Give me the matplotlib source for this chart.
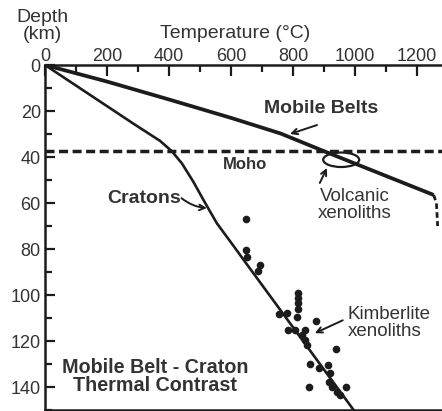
import matplotlib
matplotlib.use("Agg")
import matplotlib.pyplot as plt
from matplotlib.patches import Ellipse
from matplotlib.ticker import MultipleLocator

plt.rcParams["font.family"] = ["Liberation Sans", "DejaVu Sans"]

# geotherms (temperature degC, depth km)
mobile_T = [0, 200, 400, 600, 760, 900, 1253]
mobile_z = [0, 7.2, 15.0, 23.0, 29.8, 37.5, 56.5]
mobile_tail_T = [1253, 1262, 1266]
mobile_tail_z = [56.5, 60.0, 70.0]

craton_T = [0, 285, 371, 409, 441, 478, 511, 554, 607, 650, 995]
craton_z = [0, 25.5, 33.0, 37.5, 42.7, 50.7, 58.7, 68.8, 78.5, 86.5, 150.0]

moho_depth = 37.3

# kimberlite xenolith P-T points
xeno_T = [648, 648, 651, 694, 688, 817, 817, 817, 815, 812, 756, 780, 785, 806, 839,
          874, 828, 839, 844, 939, 853, 882, 912, 919, 917, 925, 852, 971, 941, 952]
xeno_z = [67, 80.5, 83.5, 87, 89.5, 99.3, 101.4, 103.6, 106.2, 109.4, 108.3, 108, 115, 115, 115.2,
          111.3, 117.4, 119.6, 121.7, 123.5, 130, 131.9, 130.4, 133.8, 137.7, 139.8, 140, 139.8, 142, 143.5]

ink = "#1c1c1c"
txt = "#333333"

fig = plt.figure(figsize=(4.42, 4.11), dpi=100)
ax = fig.add_axes([45 / 442, 1 / 411, 397 / 442, 345 / 411])

ax.set_xlim(0, 1280)
ax.set_ylim(150, 0)

ax.plot(mobile_T, mobile_z, color=ink, lw=2.7, solid_capstyle="butt")
ax.plot(mobile_tail_T, mobile_tail_z, color=ink, lw=2.0, dashes=(2.0, 1.2))
ax.plot(craton_T, craton_z, color=ink, lw=1.9)
ax.axhline(moho_depth, color=ink, lw=2.5, dashes=(2.6, 1.3))
ax.plot(xeno_T, xeno_z, "o", color=ink, ms=5.5, mec="none")

ax.add_patch(Ellipse((955, 41.2), 116, 6.3, fill=False, ec=ink, lw=1.6))

# ticks
ax.xaxis.tick_top()
ax.xaxis.set_major_locator(MultipleLocator(200))
ax.xaxis.set_minor_locator(MultipleLocator(100))
ax.yaxis.set_major_locator(MultipleLocator(20))
ax.yaxis.set_minor_locator(MultipleLocator(10))
ax.tick_params(which="both", direction="in", width=1.6, color=ink, labelcolor=txt, labelsize=13)
ax.tick_params(axis="x", which="major", length=8, pad=0)
ax.tick_params(axis="y", which="major", length=7, pad=3)
ax.tick_params(which="minor", length=5)
ax.set_yticks([0, 20, 40, 60, 80, 100, 120, 140])
for s in ["left", "top", "bottom"]:
    ax.spines[s].set_linewidth(1.8)
    ax.spines[s].set_color(ink)
ax.spines["right"].set_visible(False)

fig.text(235 / 442, 1 - 33 / 411, "Temperature (°C)", ha="center", va="center", fontsize=14, color=txt)
fig.text(42 / 442, 1 - 26 / 411, "Depth\n(km)", ha="center", va="center", fontsize=14,
         color=txt, linespacing=0.95)

arrow = dict(arrowstyle="->", color=ink, lw=1.4, shrinkA=0, shrinkB=0)

ax.text(889, 19.1, "Mobile Belts", ha="center", va="center", fontsize=14, fontweight="bold", color=txt)
ax.annotate("", xy=(790, 30), xytext=(877, 26.1), arrowprops=arrow)

ax.text(645, 43.1, "Moho", ha="center", va="center", fontsize=12, fontweight="bold", color=txt)

ax.text(999, 60.9, "Volcanic\nxenoliths", ha="center", va="center", fontsize=13.5, color=txt,
        linespacing=1.0)
ax.annotate("", xy=(909, 44.8), xytext=(886, 51.3), arrowprops=arrow)

ax.text(440, 57.9, "Cratons", ha="right", va="center", fontsize=14, fontweight="bold", color=txt)
ax.annotate("", xy=(522, 62.2), xytext=(440, 57.9),
            arrowprops=dict(arrow, connectionstyle="arc3,rad=0.15"))

ax.text(976, 112.3, "Kimberlite\nxenoliths", ha="left", va="center", fontsize=13.5, color=txt,
        linespacing=1.0)
ax.annotate("", xy=(870, 116.6), xytext=(960, 111), arrowprops=arrow)

ax.text(354, 135.3, "Mobile Belt - Craton\nThermal Contrast", ha="center", va="center",
        fontsize=14.2, fontweight="bold", color=txt, linespacing=0.95)

fig.savefig("out.png", dpi=100)
